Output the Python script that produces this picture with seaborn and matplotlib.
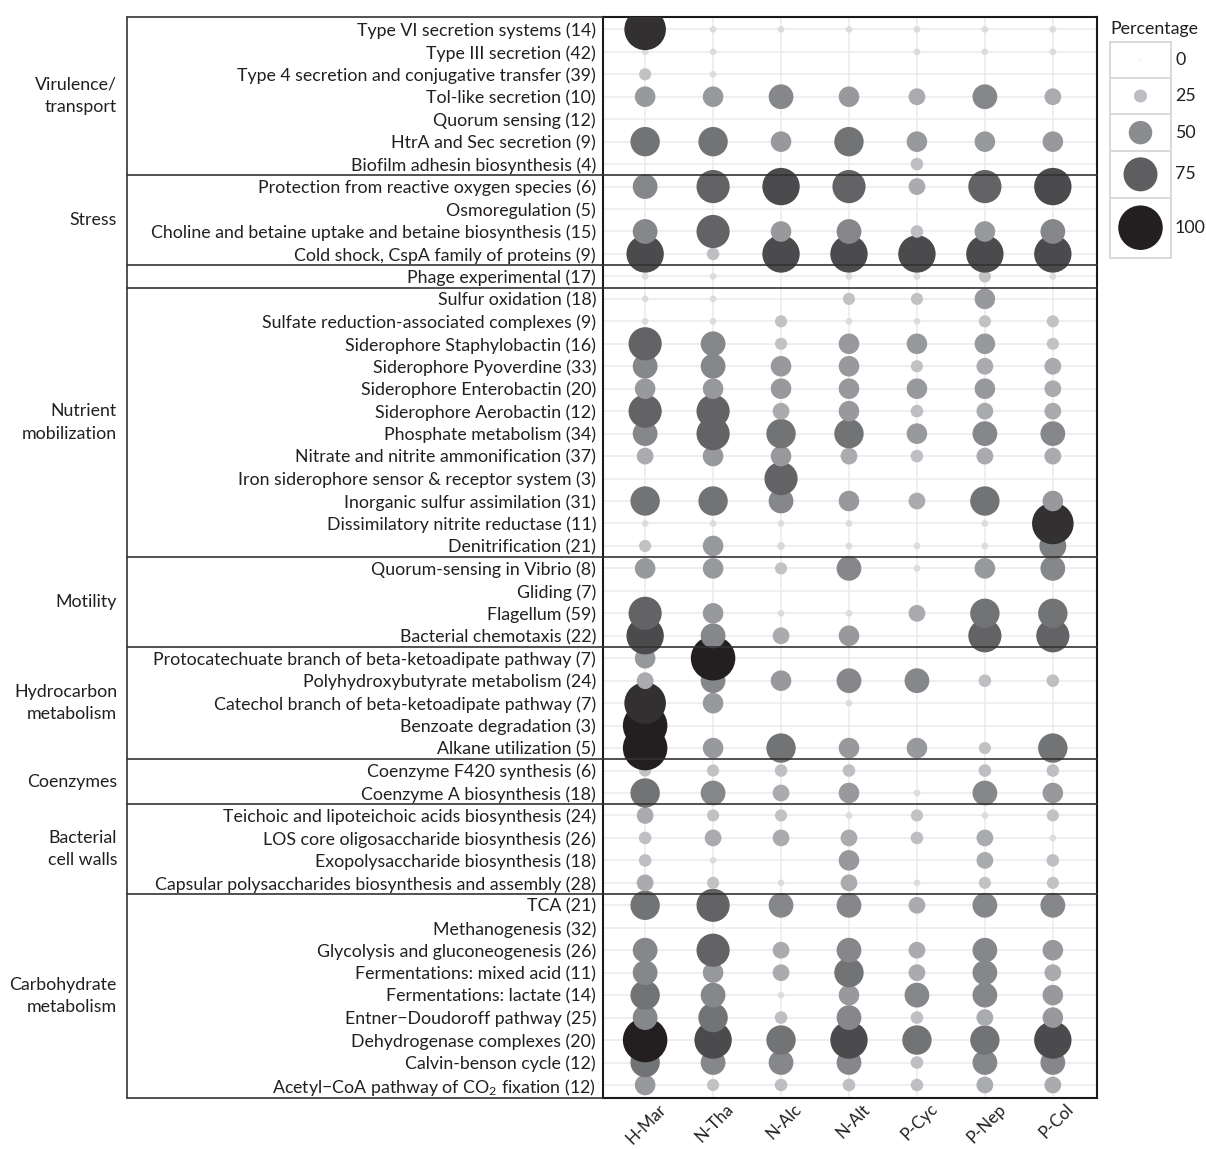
import numpy as np
import pandas as pd
import matplotlib
matplotlib.use("Agg")
import matplotlib.pyplot as plt
import matplotlib.transforms as mtransforms
from matplotlib.colors import LinearSegmentedColormap
from matplotlib.patches import Rectangle
import seaborn as sns

nan = np.nan

# ---------------- data ----------------
pathways = [
    "Type VI secretion systems (14)",
    "Type III secretion (42)",
    "Type 4 secretion and conjugative transfer (39)",
    "Tol-like secretion (10)",
    "Quorum sensing (12)",
    "HtrA and Sec secretion (9)",
    "Biofilm adhesin biosynthesis (4)",
    "Protection from reactive oxygen species (6)",
    "Osmoregulation (5)",
    "Choline and betaine uptake and betaine biosynthesis (15)",
    "Cold shock, CspA family of proteins (9)",
    "Phage experimental (17)",
    "Sulfur oxidation (18)",
    "Sulfate reduction-associated complexes (9)",
    "Siderophore Staphylobactin (16)",
    "Siderophore Pyoverdine (33)",
    "Siderophore Enterobactin (20)",
    "Siderophore Aerobactin (12)",
    "Phosphate metabolism (34)",
    "Nitrate and nitrite ammonification (37)",
    "Iron siderophore sensor & receptor system (3)",
    "Inorganic sulfur assimilation (31)",
    "Dissimilatory nitrite reductase (11)",
    "Denitrification (21)",
    "Quorum-sensing in Vibrio (8)",
    "Gliding (7)",
    "Flagellum (59)",
    "Bacterial chemotaxis (22)",
    "Protocatechuate branch of beta-ketoadipate pathway (7)",
    "Polyhydroxybutyrate metabolism (24)",
    "Catechol branch of beta-ketoadipate pathway (7)",
    "Benzoate degradation (3)",
    "Alkane utilization (5)",
    "Coenzyme F420 synthesis (6)",
    "Coenzyme A biosynthesis (18)",
    "Teichoic and lipoteichoic acids biosynthesis (24)",
    "LOS core oligosaccharide biosynthesis (26)",
    "Exopolysaccharide biosynthesis (18)",
    "Capsular polysaccharides biosynthesis and assembly (28)",
    "TCA (21)",
    "Methanogenesis (32)",
    "Glycolysis and gluconeogenesis (26)",
    "Fermentations: mixed acid (11)",
    "Fermentations: lactate (14)",
    "Entner\u2212Doudoroff pathway (25)",
    "Dehydrogenase complexes (20)",
    "Calvin-benson cycle (12)",
    "Acetyl\u2212CoA pathway of CO$_2$ fixation (12)",
]

samples = ["H-Mar", "N-Tha", "N-Alc", "N-Alt", "P-Cyc", "P-Nep", "P-Col"]

h_mar = [93, 10, 23, 43, nan, 64, nan, 53, nan, 53, 83, 10,
         10, 10, 73, 53, 43, 73, 53, 34, nan, 64, 10, 23,
         43, nan, 73, 83, 43, 34, 93, 100, 100, 23, 64,
         34, 24, 24, 34, 64, nan, 53, 53, 64, 53, 100, 64, 43]
n_tha = [10, 10, 10, 43, nan, 64, nan, 73, nan, 73, 24, 10,
         10, 10, 53, 53, 43, 73, 73, 43, nan, 64, 10, 43,
         43, nan, 43, 53, 100, 53, 43, nan, 43, 23, 53,
         23, 34, 10, 23, 73, nan, 73, 43, 53, 64, 83, 53, 23]
n_alc = [10, nan, nan, 53, nan, 43, nan, 83, nan, 43, 83, nan,
         nan, 23, 23, 43, 43, 34, 64, 43, 73, 53, 10, 12,
         23, nan, 10, 34, nan, 43, nan, nan, 64, 24, 34,
         23, 34, nan, 10, 53, nan, 34, 34, 10, 24, 64, 53, 24]
n_alt = [10, nan, nan, 43, nan, 64, nan, 73, nan, 53, 83, 10,
         23, 10, 43, 43, 43, 43, 64, 34, nan, 43, 10, 10,
         53, nan, 10, 43, nan, 53, 10, nan, 43, 24, 43,
         10, 34, 43, 34, 53, nan, 53, 64, 43, 53, 83, 53, 24]
p_cyc = [10, 10, nan, 34, nan, 43, 24, 34, nan, 24, 83, 10,
         23, 10, 43, 23, 43, 24, 43, 24, nan, 34, nan, 10,
         10, nan, 34, nan, nan, 53, nan, nan, 43, nan, 10,
         23, 24, nan, 10, 34, nan, 34, 34, 53, 24, 64, 24, 24]
p_nep = [10, 10, nan, 53, nan, 43, nan, 73, nan, 43, 83, 23,
         43, 23, 43, 34, 43, 34, 53, 34, nan, 64, 10, 10,
         43, nan, 64, 73, nan, 24, nan, nan, 23, 24, 53,
         10, 34, 34, 23, 53, nan, 53, 53, 53, 34, 64, 53, 34]
p_col = [10, 10, nan, 34, nan, 43, nan, 83, nan, 53, 83, 10,
         nan, 23, 23, 34, 34, 34, 53, 34, nan, 43, 93, 58,
         53, nan, 64, 73, nan, 24, nan, nan, 64, 24, 43,
         23, 10, 24, 23, 53, nan, 43, 34, 43, 43, 83, 53, 34]

group_names = ["Virulence/\ntransport", "Stress", "", "Nutrient\nmobilization",
               "Motility", "Hydrocarbon\nmetabolism", "Coenzymes",
               "Bacterial\ncell walls", "Carbohydrate\nmetabolism"]
group_sizes = [7, 4, 1, 12, 4, 5, 2, 4, 9]

legend_values = [0, 25, 50, 75, 100]

# ---------------- style ----------------
sns.set_style("white")
plt.rcParams["font.family"] = ["Lato", "DejaVu Sans"]
plt.rcParams["mathtext.fontset"] = "custom"
plt.rcParams["mathtext.rm"] = "Lato"
plt.rcParams["mathtext.it"] = "Lato:italic"
plt.rcParams["mathtext.bf"] = "Lato:bold"
TXT = "#231f20"
FS = 12.8

cmap = LinearSegmentedColormap.from_list(
    "pct", [(0.0, "#f0f0f0"), (0.25, "#bcbdc0"), (0.5, "#8b8c8f"),
            (0.75, "#5f5f61"), (1.0, "#231f20")])


def area(p):
    d_px = 2.5 + 0.42 * p
    return (d_px * 0.72) ** 2


series = [h_mar, n_tha, n_alc, n_alt, p_cyc, p_nep, p_col]
recs = []
for i in reversed(range(len(pathways))):
    for j, s in enumerate(series):
        v = s[i]
        if not np.isnan(v):
            recs.append({"xi": j, "yi": i, "pct": v})
df = pd.DataFrame(recs)
all_vals = sorted(set(df["pct"]).union(legend_values))
size_map = {v: area(v) for v in all_vals}

W, H = 1206, 1149
fig = plt.figure(figsize=(W / 100, H / 100), dpi=100)
L, R, T, B = 603, 1097, 17, 1098
ax = fig.add_axes([L / W, 1 - B / H, (R - L) / W, (B - T) / H])

sns.scatterplot(data=df, x="xi", y="yi", hue="pct", hue_norm=(0, 100),
                palette=cmap, size="pct", sizes=size_map, linewidth=0,
                legend=False, ax=ax, zorder=3)

n = len(pathways)
y_top, y_bot = -0.55, n - 1 + 0.58
ax.set_ylim(y_bot, y_top)
ax.set_xlim(-0.62, 6.65)
ax.set_xticks(range(len(samples)))
ax.set_yticks(range(n))
ax.set_yticklabels(pathways, fontsize=FS, color=TXT)
ax.set_xticklabels(samples, fontsize=12.2, color=TXT, rotation=45,
                   ha="right", va="top", rotation_mode="anchor")
ax.set_xlabel("")
ax.set_ylabel("")
ax.tick_params(axis="y", length=0, pad=5)
ax.tick_params(axis="x", length=0, pad=2)
ax.grid(True, color="#ebebeb", lw=1.1)
ax.set_axisbelow(True)
for sp in ax.spines.values():
    sp.set_color("#1a1a1a")
    sp.set_linewidth(1.5)

# offset x tick labels a bit to the right
offset = mtransforms.ScaledTranslation(9 / 72, 0, fig.dpi_scale_trans)
for lab in ax.get_xticklabels():
    lab.set_transform(lab.get_transform() + offset)

# group boxes
trans = mtransforms.blended_transform_factory(ax.transAxes, ax.transData)
xl = (127 - L) / (R - L)
bounds = np.cumsum(group_sizes)[:-1] - 0.5
for b in bounds:
    ax.plot([xl, 1], [b, b], transform=trans, color="#333333", lw=1.2,
            clip_on=False, zorder=4)
for yy in (y_top, y_bot):
    ax.plot([xl, 0], [yy, yy], transform=trans, color="#333333", lw=1.2,
            clip_on=False, zorder=4)
ax.plot([xl, xl], [y_top, y_bot], transform=trans, color="#333333", lw=1.2,
        clip_on=False, zorder=4)

edges = [y_top] + list(bounds) + [y_bot]
xg = (117 - L) / (R - L)
for k, name in enumerate(group_names):
    if name:
        yc = (edges[k] + edges[k + 1]) / 2
        ax.text(xg, yc, name, transform=trans, ha="right", va="center",
                fontsize=FS, color=TXT, linespacing=1.5)

# legend
lx0, lx1, ly0, ly1 = 1110, 1171, 41.7, 257.7
lax = fig.add_axes([lx0 / W, 1 - ly1 / H, (lx1 - lx0) / W, (ly1 - ly0) / H])
key_edges = [0, 36, 72.6, 109.3, 156, 216]
centers = [(key_edges[k] + key_edges[k + 1]) / 2 for k in range(5)]
for k in range(5):
    lax.add_patch(Rectangle((0, key_edges[k]), lx1 - lx0,
                            key_edges[k + 1] - key_edges[k], facecolor="white",
                            edgecolor="#d9d9d9", lw=1.4, clip_on=False, zorder=1))
ldf = pd.DataFrame({"xi": [(lx1 - lx0) / 2] * 5, "yi": centers, "pct": legend_values})
sns.scatterplot(data=ldf, x="xi", y="yi", hue="pct", hue_norm=(0, 100),
                palette=cmap, size="pct", sizes=size_map, linewidth=0,
                legend=False, ax=lax, zorder=3, clip_on=False)
lax.set_xlim(0, lx1 - lx0)
lax.set_ylim(ly1 - ly0, 0)
lax.axis("off")
for c, v in zip(centers, legend_values):
    lax.text(lx1 - lx0 + 4, c, str(v), ha="left", va="center", fontsize=FS,
             color=TXT)
fig.text(lx0 / W, 1 - 29 / H, "Percentage", ha="left", va="center",
         fontsize=FS, color=TXT)

fig.savefig("out.png", dpi=100, facecolor="white")
